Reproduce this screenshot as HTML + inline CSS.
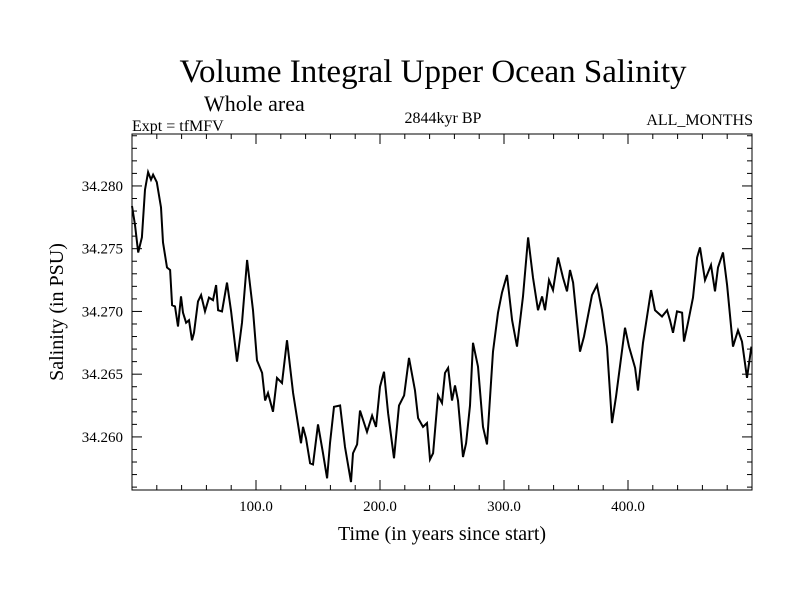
<!DOCTYPE html>
<html><head><meta charset="utf-8"><style>
body{margin:0;background:#fff;}
svg text{font-family:"Liberation Serif",serif;fill:#000;}
</style></head><body>
<svg id="chart" width="800" height="600" xmlns="http://www.w3.org/2000/svg">
<text x="433" y="82" font-size="33" text-anchor="middle">Volume Integral Upper Ocean Salinity</text>
<text x="204" y="111" font-size="22">Whole area</text>
<text x="132" y="131" font-size="16">Expt = tfMFV</text>
<text x="443" y="123" font-size="16" text-anchor="middle">2844kyr BP</text>
<text x="753" y="125" font-size="16" text-anchor="end">ALL_MONTHS</text>
<text x="442" y="540" font-size="20" text-anchor="middle">Time (in years since start)</text>
<text transform="translate(63,312) rotate(-90)" font-size="20" text-anchor="middle">Salinity (in PSU)</text>
<g id="axes"></g>
<path id="line" fill="none" stroke="#000" stroke-width="2"/>
<rect x="132" y="134" width="620" height="356" fill="none" stroke="#000" stroke-width="1"/>
</svg>
<script>
const years=[0,2.4,5,8,10.5,13,15.3,17,20,23.4,25,28.2,30.7,32.3,34.7,37.1,39.5,41.1,43.6,46,48.4,50,53.2,55.7,58.9,62.1,65.3,67.8,69.4,72.6,76.6,79.9,84.7,88.7,92.8,97.6,100.8,104.9,107.3,109.7,113.7,116.9,121,125,129.9,136.3,137.9,140.3,143.6,146,150,154,157.3,159.7,162.9,167.8,171.8,176.6,178.2,181.5,183.9,189.5,193.6,196.8,200,203.2,206.5,211.3,215.3,219.4,223.4,228.2,230.7,234.7,237.9,240.3,242.8,246.8,250,252.4,254.9,258.1,260.5,262.9,266.9,269.4,272.6,275,279,283.1,286.3,291.1,295.2,298.4,302.4,306.5,310.5,315.3,319.4,323.4,327.4,330.7,333.1,336.3,339.5,343.6,347.6,350.8,353.2,355.7,361.3,364.5,371,375,379,383.1,387.1,390.3,397.6,400.8,405.7,408.1,412.1,418.6,421.8,427.4,431.5,433.9,436.3,439.5,443.6,445.2,448.4,452.4,455.7,458.1,462.1,466.9,470.2,472.6,476.6,479.9,484.7,488.7,491.9,496,499.5];
const salinity=[34.2784,34.2769,34.2747,34.2759,34.2797,34.2811,34.2805,34.2809,34.2803,34.2783,34.2755,34.2735,34.2733,34.2705,34.2704,34.2688,34.2712,34.2699,34.2691,34.2693,34.2677,34.2683,34.2708,34.2713,34.2700,34.2711,34.2709,34.2721,34.2701,34.2700,34.2723,34.2700,34.2660,34.2691,34.2741,34.2701,34.2661,34.2651,34.2629,34.2635,34.2620,34.2647,34.2643,34.2677,34.2635,34.2595,34.2608,34.2599,34.2579,34.2578,34.2610,34.2587,34.2567,34.2595,34.2624,34.2625,34.2592,34.2564,34.2587,34.2594,34.2621,34.2604,34.2617,34.2608,34.2640,34.2652,34.2619,34.2583,34.2625,34.2633,34.2663,34.2637,34.2615,34.2608,34.2611,34.2582,34.2587,34.2633,34.2627,34.2651,34.2655,34.2629,34.2641,34.2629,34.2584,34.2595,34.2625,34.2675,34.2656,34.2608,34.2594,34.2668,34.2699,34.2715,34.2729,34.2693,34.2672,34.2712,34.2759,34.2727,34.2701,34.2712,34.2701,34.2725,34.2717,34.2743,34.2727,34.2716,34.2733,34.2723,34.2668,34.2680,34.2713,34.2721,34.2701,34.2672,34.2611,34.2632,34.2687,34.2672,34.2655,34.2637,34.2675,34.2717,34.2701,34.2696,34.2701,34.2693,34.2683,34.2700,34.2699,34.2676,34.2691,34.2711,34.2743,34.2751,34.2725,34.2737,34.2716,34.2735,34.2747,34.2721,34.2672,34.2685,34.2676,34.2647,34.2672];
const xTickLabels=["100.0","200.0","300.0","400.0"];
const xTickValues=[100,200,300,400];
const yTickValues=[34.260,34.265,34.270,34.275,34.280];
const yTickLabels=["34.260","34.265","34.270","34.275","34.280"];
const X0=132,X1=752,Y0=490,Y1=134,XMIN=0,XMAX=500,YMIN=34.25577,YMAX=34.28414;
function sx(v){return X0+(v-XMIN)/(XMAX-XMIN)*(X1-X0);}
function sy(v){return Y0-(v-YMIN)/(YMAX-YMIN)*(Y0-Y1);}
const NS="http://www.w3.org/2000/svg";
const axes=document.getElementById('axes');
function ln(x1,y1,x2,y2,name){const l=document.createElementNS(NS,'line');l.setAttribute('x1',x1);l.setAttribute('y1',y1);l.setAttribute('x2',x2);l.setAttribute('y2',y2);l.setAttribute('stroke','#000');l.setAttribute('stroke-width','1');


axes.appendChild(l);}
for(let v=20;v<XMAX;v+=20){const x=sx(v);const major=v%100===0;const L=major?10:5;ln(x,Y0,x,Y0-L,'x-tick');ln(x,Y1,x,Y1+L,'x-tick-top');}
xTickValues.forEach((v,i)=>{const t=document.createElementNS(NS,'text');t.setAttribute('x',sx(v));t.setAttribute('y',511);t.setAttribute('font-size','15');t.setAttribute('text-anchor','middle');t.textContent=xTickLabels[i];


axes.appendChild(t);});
for(let k=0;k<30;k++){const v=34.256+k*0.001;if(v>YMAX)break;const y=sy(v);const major=Math.round(v*1000)%5===0;const L=major?10:5;ln(X0,y,X0+L,y,'y-tick');ln(X1,y,X1-L,y,'y-tick-right');}
yTickValues.forEach((v,i)=>{const t=document.createElementNS(NS,'text');t.setAttribute('x',123);t.setAttribute('y',sy(v)+5);t.setAttribute('font-size','15');t.setAttribute('text-anchor','end');t.textContent=yTickLabels[i];


axes.appendChild(t);});
document.getElementById('line').setAttribute('d',years.map((y,i)=>(i?'L':'M')+sx(y).toFixed(1)+','+sy(salinity[i]).toFixed(1)).join(''));
</script>
</body></html>
